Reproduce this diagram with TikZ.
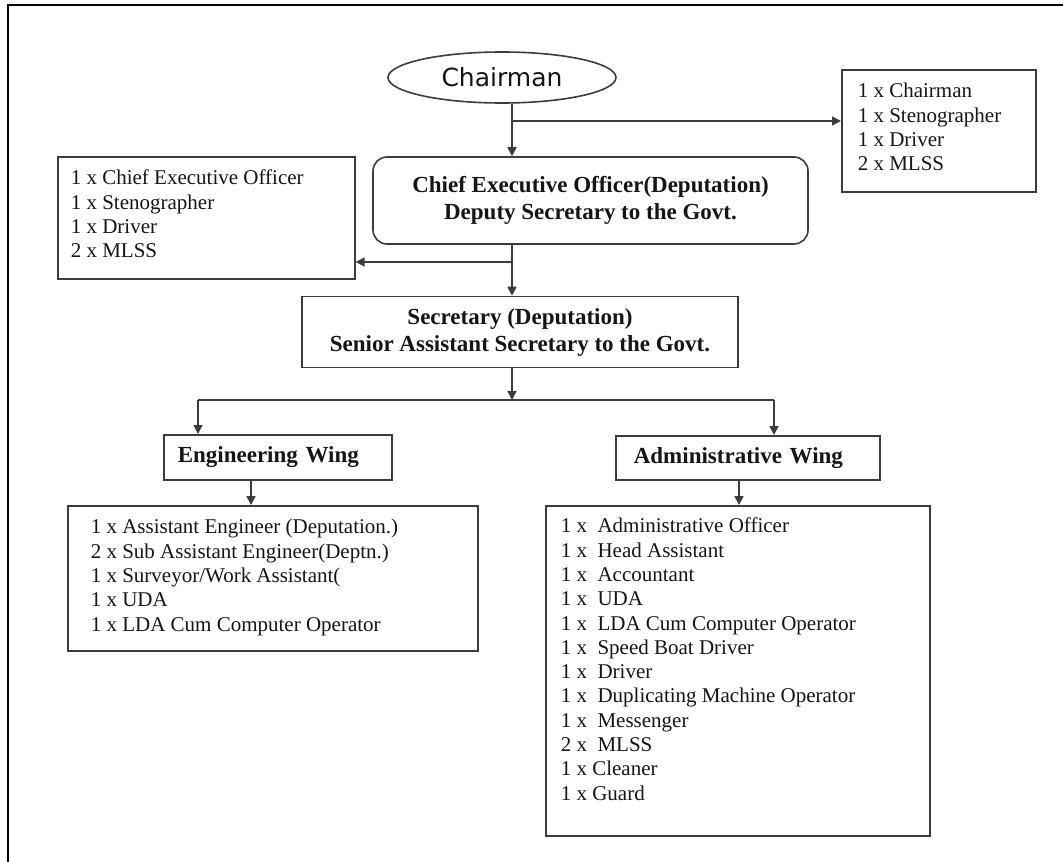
\documentclass[tikz,border=0pt]{standalone}
\usepackage{fontspec}
\setmainfont{Liberation Serif}
\newfontfamily\chairfont{DejaVu Sans}
\usetikzlibrary{shapes.geometric,arrows.meta}

\definecolor{rulegray}{HTML}{3C3C3C}
\definecolor{inkblack}{HTML}{151515}

% staff list: width, height, left padding, first-baseline depth, lines
\newcommand{\staffbox}[5]{%
  \parbox[t][#2][t]{#1}{\raggedright\leftskip=#3\relax
    \fontsize{21}{24.3}\selectfont\rule{0pt}{#4}#5}}

\tikzset{
  conn/.style={draw=rulegray, line width=1.6pt},
  arr/.style={conn, -{Triangle[length=9pt,width=9pt]}},
  listbox/.style={draw=rulegray, line width=1.6pt, inner sep=0pt, anchor=north west, text=inkblack},
  headbox/.style={draw=rulegray, line width=1.6pt, inner sep=0pt, align=center, text=inkblack,
    font=\fontsize{23}{27}\selectfont\bfseries},
  wingbox/.style={draw=rulegray, line width=1.6pt, inner ysep=0pt, anchor=north west, align=left,
    text=inkblack, font=\fontsize{23}{27}\selectfont\bfseries},
}

\begin{document}
\begin{tikzpicture}[x=1pt, y=-1pt]
\useasboundingbox (0,0) rectangle (1063,862);

% page frame
\draw[black, line width=2.2pt] (8,862) -- (8,5) -- (1063,5);

% top of the chart
\node[ellipse, draw=rulegray, line width=1.6pt, minimum width=228pt, minimum height=51pt,
  inner sep=0pt, text=inkblack, font=\chairfont\fontsize{25}{30}\selectfont] (chair) at (502,77.5) {Chairman};

\node[headbox, rounded corners=14pt, minimum width=435pt, minimum height=87pt] (ceo) at (590.5,200.5)
  {Chief Executive Officer(Deputation)\\Deputy Secretary to the Govt.};

\node[headbox, minimum width=436pt, minimum height=71pt] (sec) at (520,332)
  {Secretary (Deputation)\\Senior Assistant Secretary to the Govt.};

% office staff boxes
\node[listbox] (staffR) at (841,69)
  {\staffbox{194pt}{122pt}{16pt}{28pt}{1 x Chairman\\1 x Stenographer\\1 x Driver\\2 x MLSS}};

\node[listbox] (staffL) at (57,156)
  {\staffbox{297pt}{122pt}{13pt}{28pt}{1 x Chief Executive Officer\\1 x Stenographer\\1 x Driver\\2 x MLSS}};

% wings
\node[wingbox, text width=200pt, inner xsep=14pt, minimum height=45pt] (engw) at (163,434) {Engineering Wing};
\node[wingbox, text width=228pt, inner xsep=18pt, minimum height=44pt] (admw) at (615,435) {Administrative Wing};

\node[listbox] (engstaff) at (67,505)
  {\staffbox{410pt}{145pt}{23pt}{28pt}{1 x Assistant Engineer (Deputation.)\\
   2 x Sub Assistant Engineer(Deptn.)\\
   1 x Surveyor/Work Assistant(\\
   1 x UDA\\
   1 x LDA Cum Computer Operator}};

\node[listbox] (admstaff) at (545,505)
  {\staffbox{384pt}{330pt}{15pt}{27pt}{1 x~~Administrative Officer\\
   1 x~~Head Assistant\\
   1 x~~Accountant\\
   1 x~~UDA\\
   1 x~~LDA Cum Computer Operator\\
   1 x~~Speed Boat Driver\\
   1 x~~Driver\\
   1 x~~Duplicating Machine Operator\\
   1 x~~Messenger\\
   2 x~~MLSS\\
   1 x Cleaner\\
   1 x Guard}};

% connectors
\coordinate (spine) at (512,0);
\coordinate (tapR) at (512,121);
\coordinate (tapL) at (512,262);
\coordinate (bus) at (512,400);
\coordinate (busL) at (198,400);
\coordinate (busR) at (774,400);
\coordinate (engx) at (251,0);
\coordinate (admx) at (739,0);

\draw[arr] (chair.south -| spine) -- (ceo.north -| spine);
\draw[arr] (tapR) -- (tapR -| staffR.west);
\draw[arr] (ceo.south -| spine) -- (sec.north -| spine);
\draw[arr] (tapL) -- (tapL -| staffL.east);
\draw[arr] (sec.south -| spine) -- (bus);
\draw[conn] (busL) -- (busR);
\draw[arr] (busL) -- (busL |- engw.north);
\draw[arr] (busR) -- (busR |- admw.north);
\draw[arr] (engw.south -| engx) -- (engstaff.north -| engx);
\draw[arr] (admw.south -| admx) -- (admstaff.north -| admx);
\end{tikzpicture}
\end{document}
